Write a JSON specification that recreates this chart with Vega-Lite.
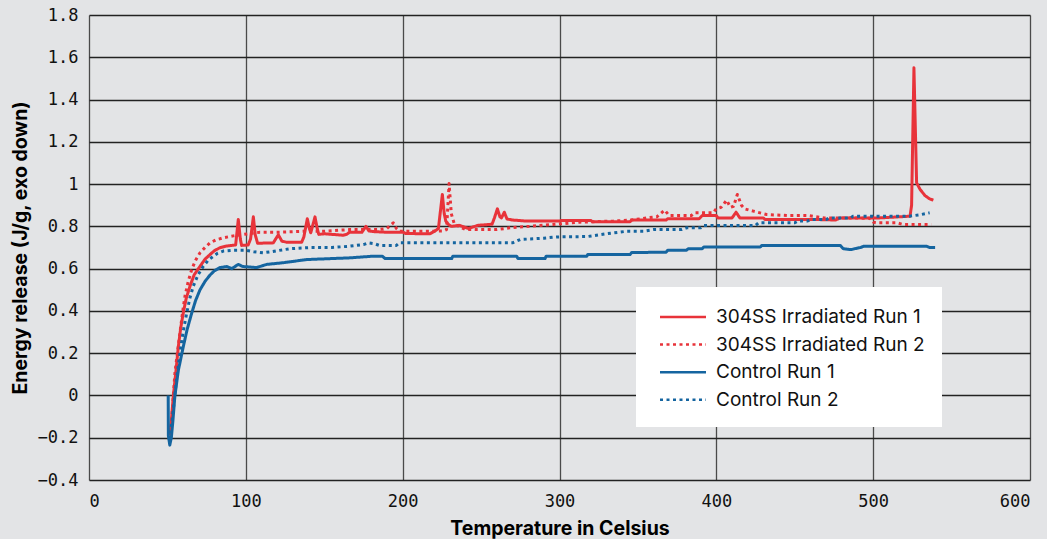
{
  "$schema": "https://vega.github.io/schema/vega-lite/v6.json",
  "width": 941,
  "height": 465,
  "autosize": {"type": "none"},
  "padding": {"left": 89, "top": 15, "right": 17, "bottom": 59},
  "background": "#e3e4e6",
  "config": {
    "view": {"stroke": null},
    "axis": {
      "labelFont": "DejaVu Sans Mono",
      "labelFontSize": 17,
      "labelColor": "#111",
      "titleFont": "Inter",
      "titleFontWeight": "bold",
      "titleFontSize": 19.5,
      "titleColor": "#000",
      "ticks": false,
      "domain": false,
      "gridWidth": 1.3
    }
  },
  "data": {
    "values": [
      {"series": "304SS Irradiated Run 1", "T": 51.5, "E": -0.19},
      {"series": "304SS Irradiated Run 1", "T": 52.5, "E": -0.12},
      {"series": "304SS Irradiated Run 1", "T": 53.8, "E": 0.0},
      {"series": "304SS Irradiated Run 1", "T": 55.5, "E": 0.12},
      {"series": "304SS Irradiated Run 1", "T": 57, "E": 0.233},
      {"series": "304SS Irradiated Run 1", "T": 58.5, "E": 0.32},
      {"series": "304SS Irradiated Run 1", "T": 60.1, "E": 0.39},
      {"series": "304SS Irradiated Run 1", "T": 62, "E": 0.46},
      {"series": "304SS Irradiated Run 1", "T": 64.4, "E": 0.517},
      {"series": "304SS Irradiated Run 1", "T": 67, "E": 0.57},
      {"series": "304SS Irradiated Run 1", "T": 70.8, "E": 0.611},
      {"series": "304SS Irradiated Run 1", "T": 74, "E": 0.645},
      {"series": "304SS Irradiated Run 1", "T": 77.2, "E": 0.667},
      {"series": "304SS Irradiated Run 1", "T": 80, "E": 0.685},
      {"series": "304SS Irradiated Run 1", "T": 83.5, "E": 0.699},
      {"series": "304SS Irradiated Run 1", "T": 87, "E": 0.706},
      {"series": "304SS Irradiated Run 1", "T": 91, "E": 0.71},
      {"series": "304SS Irradiated Run 1", "T": 93.5, "E": 0.712},
      {"series": "304SS Irradiated Run 1", "T": 95.2, "E": 0.833},
      {"series": "304SS Irradiated Run 1", "T": 96.5, "E": 0.74},
      {"series": "304SS Irradiated Run 1", "T": 97.3, "E": 0.71},
      {"series": "304SS Irradiated Run 1", "T": 101.5, "E": 0.712},
      {"series": "304SS Irradiated Run 1", "T": 103, "E": 0.74},
      {"series": "304SS Irradiated Run 1", "T": 104.8, "E": 0.845},
      {"series": "304SS Irradiated Run 1", "T": 106, "E": 0.76},
      {"series": "304SS Irradiated Run 1", "T": 107.5, "E": 0.72},
      {"series": "304SS Irradiated Run 1", "T": 117.5, "E": 0.722},
      {"series": "304SS Irradiated Run 1", "T": 120.7, "E": 0.76},
      {"series": "304SS Irradiated Run 1", "T": 123, "E": 0.73},
      {"series": "304SS Irradiated Run 1", "T": 126, "E": 0.725},
      {"series": "304SS Irradiated Run 1", "T": 135.6, "E": 0.725},
      {"series": "304SS Irradiated Run 1", "T": 137, "E": 0.75},
      {"series": "304SS Irradiated Run 1", "T": 139.2, "E": 0.836},
      {"series": "304SS Irradiated Run 1", "T": 140.5, "E": 0.79},
      {"series": "304SS Irradiated Run 1", "T": 141.4, "E": 0.77},
      {"series": "304SS Irradiated Run 1", "T": 142.5, "E": 0.8},
      {"series": "304SS Irradiated Run 1", "T": 144.1, "E": 0.845},
      {"series": "304SS Irradiated Run 1", "T": 145.5, "E": 0.79},
      {"series": "304SS Irradiated Run 1", "T": 146.5, "E": 0.762},
      {"series": "304SS Irradiated Run 1", "T": 150, "E": 0.765},
      {"series": "304SS Irradiated Run 1", "T": 162, "E": 0.758},
      {"series": "304SS Irradiated Run 1", "T": 164.3, "E": 0.762},
      {"series": "304SS Irradiated Run 1", "T": 166, "E": 0.772},
      {"series": "304SS Irradiated Run 1", "T": 174, "E": 0.772},
      {"series": "304SS Irradiated Run 1", "T": 176.6, "E": 0.8},
      {"series": "304SS Irradiated Run 1", "T": 178.5, "E": 0.778},
      {"series": "304SS Irradiated Run 1", "T": 182, "E": 0.775},
      {"series": "304SS Irradiated Run 1", "T": 190, "E": 0.772},
      {"series": "304SS Irradiated Run 1", "T": 200.4, "E": 0.772},
      {"series": "304SS Irradiated Run 1", "T": 202, "E": 0.766},
      {"series": "304SS Irradiated Run 1", "T": 217.4, "E": 0.765},
      {"series": "304SS Irradiated Run 1", "T": 221, "E": 0.78},
      {"series": "304SS Irradiated Run 1", "T": 222.8, "E": 0.79},
      {"series": "304SS Irradiated Run 1", "T": 225.3, "E": 0.951},
      {"series": "304SS Irradiated Run 1", "T": 226.5, "E": 0.86},
      {"series": "304SS Irradiated Run 1", "T": 227.5, "E": 0.825},
      {"series": "304SS Irradiated Run 1", "T": 229, "E": 0.81},
      {"series": "304SS Irradiated Run 1", "T": 231, "E": 0.8},
      {"series": "304SS Irradiated Run 1", "T": 236, "E": 0.805},
      {"series": "304SS Irradiated Run 1", "T": 242, "E": 0.79},
      {"series": "304SS Irradiated Run 1", "T": 248, "E": 0.805},
      {"series": "304SS Irradiated Run 1", "T": 257, "E": 0.81},
      {"series": "304SS Irradiated Run 1", "T": 258.5, "E": 0.84},
      {"series": "304SS Irradiated Run 1", "T": 260.4, "E": 0.883},
      {"series": "304SS Irradiated Run 1", "T": 262, "E": 0.845},
      {"series": "304SS Irradiated Run 1", "T": 263, "E": 0.84},
      {"series": "304SS Irradiated Run 1", "T": 264.8, "E": 0.867},
      {"series": "304SS Irradiated Run 1", "T": 266.5, "E": 0.835},
      {"series": "304SS Irradiated Run 1", "T": 270, "E": 0.83},
      {"series": "304SS Irradiated Run 1", "T": 279, "E": 0.825},
      {"series": "304SS Irradiated Run 1", "T": 300.4, "E": 0.825},
      {"series": "304SS Irradiated Run 1", "T": 301, "E": 0.828},
      {"series": "304SS Irradiated Run 1", "T": 320, "E": 0.828},
      {"series": "304SS Irradiated Run 1", "T": 321, "E": 0.822},
      {"series": "304SS Irradiated Run 1", "T": 345, "E": 0.822},
      {"series": "304SS Irradiated Run 1", "T": 346, "E": 0.83},
      {"series": "304SS Irradiated Run 1", "T": 368, "E": 0.83},
      {"series": "304SS Irradiated Run 1", "T": 369, "E": 0.836},
      {"series": "304SS Irradiated Run 1", "T": 389, "E": 0.836},
      {"series": "304SS Irradiated Run 1", "T": 391, "E": 0.851},
      {"series": "304SS Irradiated Run 1", "T": 400, "E": 0.851},
      {"series": "304SS Irradiated Run 1", "T": 401, "E": 0.84},
      {"series": "304SS Irradiated Run 1", "T": 410, "E": 0.84},
      {"series": "304SS Irradiated Run 1", "T": 412.6, "E": 0.867},
      {"series": "304SS Irradiated Run 1", "T": 415, "E": 0.84},
      {"series": "304SS Irradiated Run 1", "T": 430, "E": 0.84},
      {"series": "304SS Irradiated Run 1", "T": 431, "E": 0.832},
      {"series": "304SS Irradiated Run 1", "T": 466, "E": 0.832},
      {"series": "304SS Irradiated Run 1", "T": 476, "E": 0.83},
      {"series": "304SS Irradiated Run 1", "T": 479, "E": 0.84},
      {"series": "304SS Irradiated Run 1", "T": 504, "E": 0.84},
      {"series": "304SS Irradiated Run 1", "T": 523.5, "E": 0.848},
      {"series": "304SS Irradiated Run 1", "T": 524.5, "E": 0.9},
      {"series": "304SS Irradiated Run 1", "T": 526, "E": 1.55},
      {"series": "304SS Irradiated Run 1", "T": 527.7, "E": 1.006},
      {"series": "304SS Irradiated Run 1", "T": 529.9, "E": 0.975},
      {"series": "304SS Irradiated Run 1", "T": 533, "E": 0.946},
      {"series": "304SS Irradiated Run 1", "T": 536, "E": 0.93},
      {"series": "304SS Irradiated Run 1", "T": 538.4, "E": 0.924},

      {"series": "304SS Irradiated Run 2", "T": 52, "E": -0.18},
      {"series": "304SS Irradiated Run 2", "T": 53, "E": -0.08},
      {"series": "304SS Irradiated Run 2", "T": 54.8, "E": 0.107},
      {"series": "304SS Irradiated Run 2", "T": 56.5, "E": 0.21},
      {"series": "304SS Irradiated Run 2", "T": 58, "E": 0.297},
      {"series": "304SS Irradiated Run 2", "T": 59.6, "E": 0.39},
      {"series": "304SS Irradiated Run 2", "T": 61.2, "E": 0.47},
      {"series": "304SS Irradiated Run 2", "T": 63.3, "E": 0.54},
      {"series": "304SS Irradiated Run 2", "T": 65.5, "E": 0.596},
      {"series": "304SS Irradiated Run 2", "T": 68, "E": 0.64},
      {"series": "304SS Irradiated Run 2", "T": 70.8, "E": 0.675},
      {"series": "304SS Irradiated Run 2", "T": 74, "E": 0.7},
      {"series": "304SS Irradiated Run 2", "T": 77.2, "E": 0.722},
      {"series": "304SS Irradiated Run 2", "T": 81, "E": 0.736},
      {"series": "304SS Irradiated Run 2", "T": 85.6, "E": 0.746},
      {"series": "304SS Irradiated Run 2", "T": 92, "E": 0.755},
      {"series": "304SS Irradiated Run 2", "T": 98.4, "E": 0.762},
      {"series": "304SS Irradiated Run 2", "T": 109, "E": 0.772},
      {"series": "304SS Irradiated Run 2", "T": 120, "E": 0.772},
      {"series": "304SS Irradiated Run 2", "T": 136.7, "E": 0.777},
      {"series": "304SS Irradiated Run 2", "T": 150, "E": 0.777},
      {"series": "304SS Irradiated Run 2", "T": 166.4, "E": 0.785},
      {"series": "304SS Irradiated Run 2", "T": 185, "E": 0.785},
      {"series": "304SS Irradiated Run 2", "T": 190, "E": 0.79},
      {"series": "304SS Irradiated Run 2", "T": 194, "E": 0.817},
      {"series": "304SS Irradiated Run 2", "T": 196, "E": 0.79},
      {"series": "304SS Irradiated Run 2", "T": 198, "E": 0.777},
      {"series": "304SS Irradiated Run 2", "T": 220, "E": 0.777},
      {"series": "304SS Irradiated Run 2", "T": 226, "E": 0.778},
      {"series": "304SS Irradiated Run 2", "T": 228, "E": 0.785},
      {"series": "304SS Irradiated Run 2", "T": 229.6, "E": 1.003},
      {"series": "304SS Irradiated Run 2", "T": 231, "E": 0.86},
      {"series": "304SS Irradiated Run 2", "T": 233, "E": 0.81},
      {"series": "304SS Irradiated Run 2", "T": 236, "E": 0.8},
      {"series": "304SS Irradiated Run 2", "T": 240, "E": 0.785},
      {"series": "304SS Irradiated Run 2", "T": 260, "E": 0.785},
      {"series": "304SS Irradiated Run 2", "T": 270.6, "E": 0.795},
      {"series": "304SS Irradiated Run 2", "T": 281, "E": 0.8},
      {"series": "304SS Irradiated Run 2", "T": 296, "E": 0.809},
      {"series": "304SS Irradiated Run 2", "T": 313, "E": 0.82},
      {"series": "304SS Irradiated Run 2", "T": 334.4, "E": 0.825},
      {"series": "304SS Irradiated Run 2", "T": 346, "E": 0.83},
      {"series": "304SS Irradiated Run 2", "T": 355.6, "E": 0.84},
      {"series": "304SS Irradiated Run 2", "T": 362, "E": 0.845},
      {"series": "304SS Irradiated Run 2", "T": 367, "E": 0.877},
      {"series": "304SS Irradiated Run 2", "T": 370, "E": 0.851},
      {"series": "304SS Irradiated Run 2", "T": 384, "E": 0.851},
      {"series": "304SS Irradiated Run 2", "T": 386, "E": 0.864},
      {"series": "304SS Irradiated Run 2", "T": 398, "E": 0.864},
      {"series": "304SS Irradiated Run 2", "T": 400, "E": 0.883},
      {"series": "304SS Irradiated Run 2", "T": 403, "E": 0.89},
      {"series": "304SS Irradiated Run 2", "T": 406.6, "E": 0.924},
      {"series": "304SS Irradiated Run 2", "T": 409, "E": 0.89},
      {"series": "304SS Irradiated Run 2", "T": 411, "E": 0.895},
      {"series": "304SS Irradiated Run 2", "T": 413.4, "E": 0.951},
      {"series": "304SS Irradiated Run 2", "T": 416, "E": 0.9},
      {"series": "304SS Irradiated Run 2", "T": 418, "E": 0.883},
      {"series": "304SS Irradiated Run 2", "T": 423.6, "E": 0.872},
      {"series": "304SS Irradiated Run 2", "T": 432, "E": 0.856},
      {"series": "304SS Irradiated Run 2", "T": 446, "E": 0.851},
      {"series": "304SS Irradiated Run 2", "T": 459, "E": 0.851},
      {"series": "304SS Irradiated Run 2", "T": 469, "E": 0.84},
      {"series": "304SS Irradiated Run 2", "T": 485, "E": 0.84},
      {"series": "304SS Irradiated Run 2", "T": 498, "E": 0.838},
      {"series": "304SS Irradiated Run 2", "T": 500, "E": 0.82},
      {"series": "304SS Irradiated Run 2", "T": 502, "E": 0.817},
      {"series": "304SS Irradiated Run 2", "T": 515, "E": 0.817},
      {"series": "304SS Irradiated Run 2", "T": 519, "E": 0.809},
      {"series": "304SS Irradiated Run 2", "T": 537, "E": 0.809},

      {"series": "Control Run 1", "T": 50.5, "E": 0.0},
      {"series": "Control Run 1", "T": 50.6, "E": -0.19},
      {"series": "Control Run 1", "T": 51.5, "E": -0.235},
      {"series": "Control Run 1", "T": 52.5, "E": -0.2},
      {"series": "Control Run 1", "T": 53.5, "E": -0.12},
      {"series": "Control Run 1", "T": 54.8, "E": 0.0},
      {"series": "Control Run 1", "T": 57, "E": 0.12},
      {"series": "Control Run 1", "T": 60.1, "E": 0.23},
      {"series": "Control Run 1", "T": 62.5, "E": 0.31},
      {"series": "Control Run 1", "T": 65.5, "E": 0.39},
      {"series": "Control Run 1", "T": 68, "E": 0.45},
      {"series": "Control Run 1", "T": 70.8, "E": 0.5},
      {"series": "Control Run 1", "T": 74, "E": 0.54},
      {"series": "Control Run 1", "T": 77.2, "E": 0.57},
      {"series": "Control Run 1", "T": 80, "E": 0.59},
      {"series": "Control Run 1", "T": 83.5, "E": 0.605},
      {"series": "Control Run 1", "T": 88, "E": 0.61},
      {"series": "Control Run 1", "T": 91, "E": 0.6},
      {"series": "Control Run 1", "T": 95.2, "E": 0.62},
      {"series": "Control Run 1", "T": 98, "E": 0.61},
      {"series": "Control Run 1", "T": 100.5, "E": 0.609},
      {"series": "Control Run 1", "T": 106.9, "E": 0.605},
      {"series": "Control Run 1", "T": 113.3, "E": 0.62},
      {"series": "Control Run 1", "T": 123.9, "E": 0.628},
      {"series": "Control Run 1", "T": 138.8, "E": 0.643},
      {"series": "Control Run 1", "T": 166.4, "E": 0.651},
      {"series": "Control Run 1", "T": 181.3, "E": 0.659},
      {"series": "Control Run 1", "T": 187, "E": 0.659},
      {"series": "Control Run 1", "T": 188.8, "E": 0.648},
      {"series": "Control Run 1", "T": 231.3, "E": 0.648},
      {"series": "Control Run 1", "T": 232, "E": 0.659},
      {"series": "Control Run 1", "T": 272.7, "E": 0.659},
      {"series": "Control Run 1", "T": 273.5, "E": 0.648},
      {"series": "Control Run 1", "T": 290.8, "E": 0.648},
      {"series": "Control Run 1", "T": 291.5, "E": 0.659},
      {"series": "Control Run 1", "T": 317.4, "E": 0.659},
      {"series": "Control Run 1", "T": 318, "E": 0.667},
      {"series": "Control Run 1", "T": 345, "E": 0.667},
      {"series": "Control Run 1", "T": 346, "E": 0.676},
      {"series": "Control Run 1", "T": 368, "E": 0.678},
      {"series": "Control Run 1", "T": 369, "E": 0.687},
      {"series": "Control Run 1", "T": 381, "E": 0.687},
      {"series": "Control Run 1", "T": 382, "E": 0.694},
      {"series": "Control Run 1", "T": 391, "E": 0.694},
      {"series": "Control Run 1", "T": 392, "E": 0.702},
      {"series": "Control Run 1", "T": 428, "E": 0.702},
      {"series": "Control Run 1", "T": 429, "E": 0.71},
      {"series": "Control Run 1", "T": 479, "E": 0.71},
      {"series": "Control Run 1", "T": 481, "E": 0.694},
      {"series": "Control Run 1", "T": 486, "E": 0.69},
      {"series": "Control Run 1", "T": 488, "E": 0.694},
      {"series": "Control Run 1", "T": 492, "E": 0.7},
      {"series": "Control Run 1", "T": 494, "E": 0.706},
      {"series": "Control Run 1", "T": 534, "E": 0.706},
      {"series": "Control Run 1", "T": 536, "E": 0.7},
      {"series": "Control Run 1", "T": 539.5, "E": 0.7},

      {"series": "Control Run 2", "T": 51.2, "E": -0.21},
      {"series": "Control Run 2", "T": 52.5, "E": -0.15},
      {"series": "Control Run 2", "T": 54, "E": -0.05},
      {"series": "Control Run 2", "T": 56, "E": 0.09},
      {"series": "Control Run 2", "T": 58, "E": 0.2},
      {"series": "Control Run 2", "T": 60, "E": 0.3},
      {"series": "Control Run 2", "T": 62.3, "E": 0.39},
      {"series": "Control Run 2", "T": 64.3, "E": 0.46},
      {"series": "Control Run 2", "T": 66.5, "E": 0.517},
      {"series": "Control Run 2", "T": 69.5, "E": 0.57},
      {"series": "Control Run 2", "T": 72.9, "E": 0.611},
      {"series": "Control Run 2", "T": 76, "E": 0.64},
      {"series": "Control Run 2", "T": 79.3, "E": 0.659},
      {"series": "Control Run 2", "T": 82, "E": 0.673},
      {"series": "Control Run 2", "T": 85.6, "E": 0.683},
      {"series": "Control Run 2", "T": 92, "E": 0.687},
      {"series": "Control Run 2", "T": 100, "E": 0.687},
      {"series": "Control Run 2", "T": 105, "E": 0.68},
      {"series": "Control Run 2", "T": 111, "E": 0.675},
      {"series": "Control Run 2", "T": 116, "E": 0.68},
      {"series": "Control Run 2", "T": 120, "E": 0.685},
      {"series": "Control Run 2", "T": 128, "E": 0.694},
      {"series": "Control Run 2", "T": 141, "E": 0.7},
      {"series": "Control Run 2", "T": 155, "E": 0.7},
      {"series": "Control Run 2", "T": 166, "E": 0.706},
      {"series": "Control Run 2", "T": 175, "E": 0.714},
      {"series": "Control Run 2", "T": 178, "E": 0.722},
      {"series": "Control Run 2", "T": 182, "E": 0.718},
      {"series": "Control Run 2", "T": 185, "E": 0.71},
      {"series": "Control Run 2", "T": 196, "E": 0.71},
      {"series": "Control Run 2", "T": 198, "E": 0.722},
      {"series": "Control Run 2", "T": 270, "E": 0.722},
      {"series": "Control Run 2", "T": 275, "E": 0.738},
      {"series": "Control Run 2", "T": 290, "E": 0.744},
      {"series": "Control Run 2", "T": 298, "E": 0.75},
      {"series": "Control Run 2", "T": 318, "E": 0.752},
      {"series": "Control Run 2", "T": 330, "E": 0.765},
      {"series": "Control Run 2", "T": 343, "E": 0.777},
      {"series": "Control Run 2", "T": 353.5, "E": 0.777},
      {"series": "Control Run 2", "T": 360, "E": 0.785},
      {"series": "Control Run 2", "T": 378, "E": 0.785},
      {"series": "Control Run 2", "T": 381, "E": 0.793},
      {"series": "Control Run 2", "T": 390, "E": 0.793},
      {"series": "Control Run 2", "T": 392, "E": 0.804},
      {"series": "Control Run 2", "T": 425, "E": 0.804},
      {"series": "Control Run 2", "T": 427, "E": 0.817},
      {"series": "Control Run 2", "T": 450, "E": 0.817},
      {"series": "Control Run 2", "T": 452, "E": 0.825},
      {"series": "Control Run 2", "T": 458, "E": 0.825},
      {"series": "Control Run 2", "T": 460, "E": 0.832},
      {"series": "Control Run 2", "T": 470, "E": 0.832},
      {"series": "Control Run 2", "T": 472, "E": 0.84},
      {"series": "Control Run 2", "T": 486, "E": 0.84},
      {"series": "Control Run 2", "T": 487, "E": 0.848},
      {"series": "Control Run 2", "T": 523, "E": 0.848},
      {"series": "Control Run 2", "T": 530, "E": 0.855},
      {"series": "Control Run 2", "T": 536, "E": 0.864}
    ]
  },
  "mark": {"type": "line", "strokeWidth": 3, "strokeCap": "butt", "strokeJoin": "round"},
  "encoding": {
    "x": {
      "field": "T",
      "type": "quantitative",
      "scale": {"domain": [0, 600], "nice": false, "zero": false},
      "axis": {
        "title": "Temperature in Celsius",
        "values": [0, 100, 200, 300, 400, 500, 600],
        "labelPadding": 13,
        "titlePadding": 10,
        "gridColor": "#4a4a4a"
      }
    },
    "y": {
      "field": "E",
      "type": "quantitative",
      "scale": {"domain": [-0.4, 1.8], "nice": false, "zero": false},
      "axis": {
        "title": "Energy release (J/g, exo down)",
        "values": [-0.4, -0.2, 0, 0.2, 0.4, 0.6, 0.8, 1, 1.2, 1.4, 1.6, 1.8],
        "format": "~g",
        "labelPadding": 11,
        "titlePadding": 7,
        "gridColor": "#222"
      }
    },
    "color": {
      "field": "series",
      "type": "nominal",
      "scale": {
        "domain": ["304SS Irradiated Run 1", "304SS Irradiated Run 2", "Control Run 1", "Control Run 2"],
        "range": ["#e8333a", "#e8333a", "#1565a0", "#1565a0"]
      },
      "legend": {
        "title": null,
        "orient": "none",
        "legendX": 547,
        "legendY": 272,
        "fillColor": "#ffffff",
        "padding": 17,
        "rowPadding": 4.6,
        "symbolOffset": 17,
        "symbolType": "M-2,0H2",
        "symbolSize": 529,
        "symbolStrokeWidth": 2.5,
        "labelFont": "Inter",
        "labelFontSize": 19,
        "labelColor": "#111",
        "labelOffset": 20,
        "labelLimit": 400
      }
    },
    "strokeDash": {
      "field": "series",
      "type": "nominal",
      "scale": {
        "domain": ["304SS Irradiated Run 1", "304SS Irradiated Run 2", "Control Run 1", "Control Run 2"],
        "range": [[1, 0], [3, 3.5], [1, 0], [3, 3.5]]
      },
      "legend": null
    }
  }
}
